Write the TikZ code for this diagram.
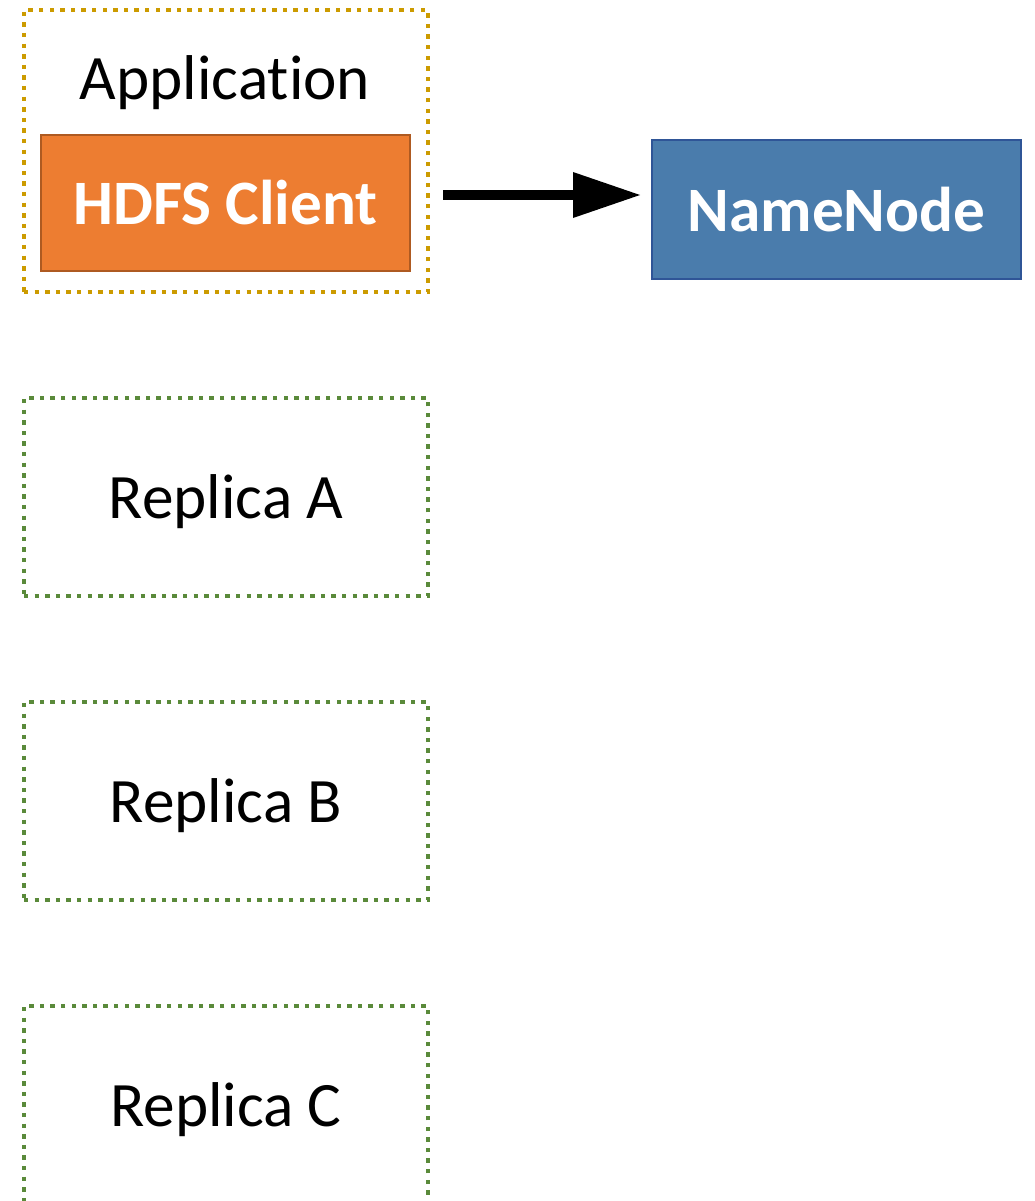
\documentclass[tikz,border=0pt]{standalone}
\usepackage{fontspec}
\setmainfont{Carlito}[Ligatures=NoCommon]
\usepackage{tikz}
\usetikzlibrary{positioning,arrows.meta,calc}
\definecolor{hdfsClient}{HTML}{ED7D31}
\definecolor{hdfsClientLine}{HTML}{AE5A21}
\definecolor{hdfsName}{HTML}{4A7CAC}
\definecolor{hdfsNameLine}{HTML}{2F5597}
\definecolor{hdfsApp}{HTML}{CC9B00}
\definecolor{hdfsReplica}{HTML}{5A8A3A}
\tikzset{
    hdfsBoxBase/.style={
        rectangle,
        outer sep=0pt,
        inner sep=0pt,
        align=center,
        font=\fontsize{45}{54}\selectfont
    },
    dottedFrame/.style={
        hdfsBoxBase,
        line width=0.11cm,
        dash pattern=on 0.11cm off 0.155cm,
        minimum width=10.1cm
    },
    % Semantic Variants
    appFrame/.style={dottedFrame, draw=hdfsApp, minimum height=7.05cm},
    replica/.style={dottedFrame, draw=hdfsReplica, minimum height=4.95cm, text depth=0pt},
    client/.style={hdfsBoxBase, fill=hdfsClient, draw=hdfsClientLine, line width=1.2pt,
        minimum width=9.225cm, minimum height=3.4cm, text=white, font=\fontsize{45}{54}\selectfont\bfseries},
    namenode/.style={hdfsBoxBase, fill=hdfsName, draw=hdfsNameLine, line width=1.2pt,
        minimum width=9.225cm, minimum height=3.475cm, text=white, font=\fontsize{45}{54}\selectfont\bfseries},
    % Arrows
    hdfsArrow/.style={-{Triangle[length=1.675cm, width=1.15cm, line width=0pt]}, line width=0.26cm, draw=black}
}
\begin{document}
\begin{tikzpicture}
\useasboundingbox (0,0) rectangle (25.85,-30.025);
\node[appFrame] (app) at (5.65,-3.775) {};
\node[hdfsBoxBase, anchor=base] (applabel) at (5.625,-2.5) {Application};
\node[client] (hdfsclient) at (5.6375,-5.075) {HDFS Client};
\node[namenode] (namenode) at (20.9125,-5.2375) {NameNode};

\node[replica, below=2.65cm of app] (replicaA) {Replica A};
\node[replica, below=2.65cm of replicaA] (replicaB) {Replica B};
\node[replica, below=2.65cm of replicaB] (replicaC) {Replica C};

\draw[hdfsArrow] ([xshift=0.825cm,yshift=0.2cm]hdfsclient.east) -- ([xshift=-0.3cm,yshift=0.2cm]hdfsclient.east -| namenode.west);
\end{tikzpicture}
\end{document}
